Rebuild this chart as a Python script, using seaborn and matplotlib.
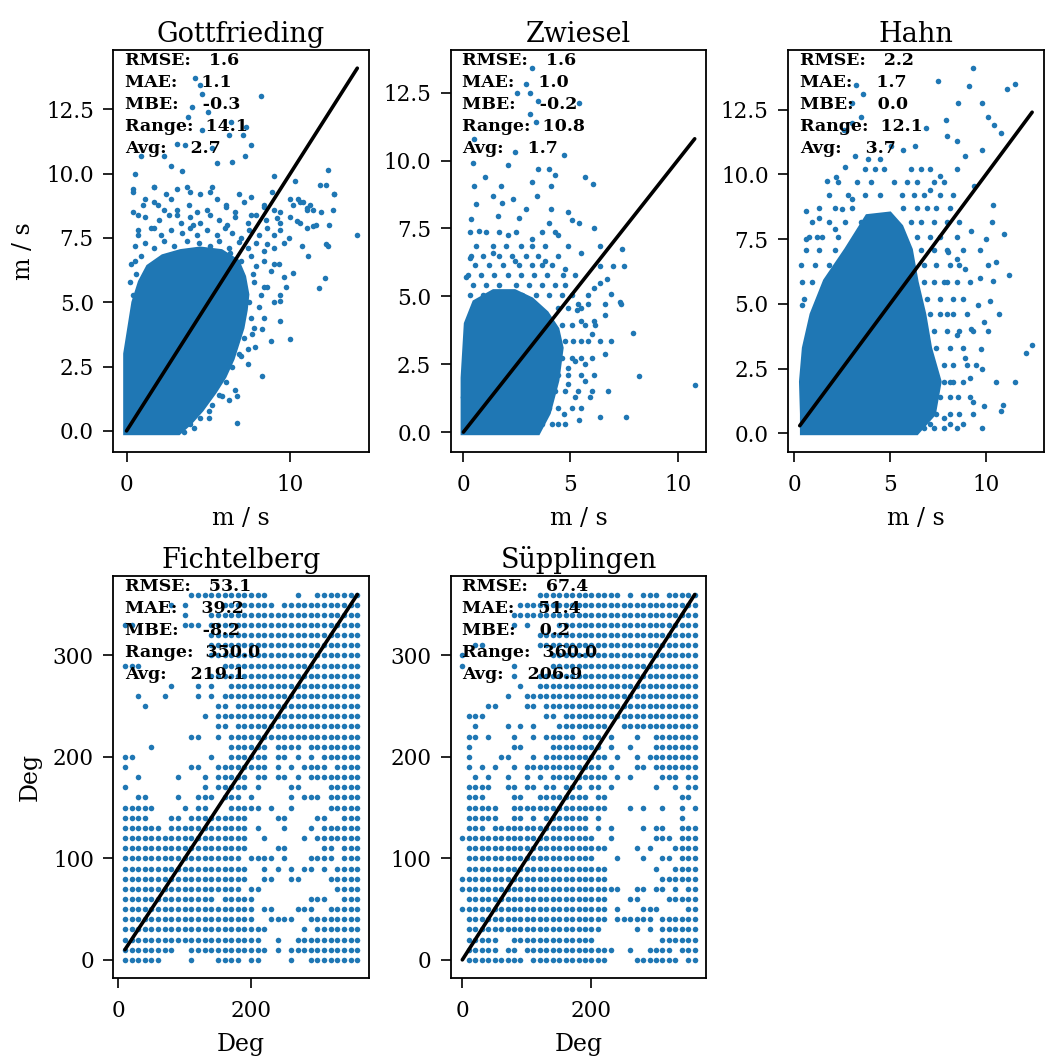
import numpy as np
import pandas as pd
import matplotlib
matplotlib.use("Agg")
import matplotlib.pyplot as plt
import seaborn as sns

sns.set_theme(style="ticks")
plt.rcParams["font.family"] = ["DejaVu Serif"]
plt.rcParams.update({"text.color": "black", "axes.labelcolor": "black",
                     "xtick.color": "black", "ytick.color": "black"})

BLUE = "#1f77b4"

stations = ["Gottfrieding", "Zwiesel", "Hahn", "Fichtelberg", "Süpplingen"]
units = ["m / s", "m / s", "m / s", "Deg", "Deg"]
rmse = [1.6, 1.6, 2.2, 53.1, 67.4]
mae = [1.1, 1.0, 1.7, 39.2, 51.4]
mbe = [-0.3, -0.2, 0.0, -8.2, 0.2]
value_range = [14.1, 10.8, 12.1, 350.0, 360.0]
avg = [2.7, 1.7, 3.7, 219.1, 206.9]
line_lo = [0.0, 0.0, 0.3, 10.0, 0.0]
line_hi = [14.1, 10.8, 12.4, 360.0, 360.0]

# dense cores of the wind speed clouds (outline, m/s)
gott_core = [(-0.1, -0.1), (3.2, -0.1), (3.9, 0.3), (4.6, 0.8), (5.4, 1.5), (6.0, 2.1),
             (6.5, 2.8), (6.8, 3.4), (7.1, 4.0), (7.3, 4.7), (7.4, 5.3), (7.2, 6.0),
             (6.8, 6.6), (5.8, 7.0), (4.5, 7.1), (3.3, 7.0), (2.2, 6.8), (1.3, 6.4),
             (0.8, 5.8), (0.4, 5.0), (0.15, 4.0), (-0.1, 3.0)]
zwie_core = [(-0.05, -0.05), (3.5, -0.05), (4.0, 0.7), (4.4, 1.9), (4.6, 3.1), (4.4, 3.8),
             (3.9, 4.4), (3.2, 4.9), (2.4, 5.2), (1.4, 5.2), (0.5, 4.8), (0.1, 4.0),
             (-0.05, 2.0)]
hahn_core = [(0.4, 0.0), (6.4, 0.0), (7.3, 0.75), (7.6, 2.0), (7.1, 3.3), (6.8, 4.6),
             (6.4, 5.85), (6.1, 7.1), (5.6, 8.0), (5.0, 8.5), (3.8, 8.4), (2.7, 7.1),
             (1.6, 5.9), (0.9, 4.6), (0.5, 3.3), (0.35, 2.0), (0.4, 0.75)]

# scattered points outside the cores (measured, modelled)
gott_pts = [(4.17, 13.7), (4.46, 13.46), (4.6, 13.1), (8.2, 13.0), (4.0, 12.6), (4.95, 12.4),
            (3.75, 12.2), (6.4, 12.0), (4.6, 11.7), (7.3, 11.8), (6.25, 11.5), (7.1, 11.5),
            (7.6, 11.1), (3.1, 11.15), (3.6, 11.1), (5.25, 11.0), (5.5, 10.4), (6.45, 10.45),
            (7.25, 10.7), (2.3, 10.7), (0.9, 10.7), (2.7, 10.3), (0.5, 10.0), (3.4, 10.1),
            (12.3, 10.15), (11.8, 9.55), (12.7, 9.2), (9.0, 9.9), (10.3, 9.7), (0.4, 9.4),
            (0.7, 8.4), (14.1, 7.6), (12.3, 7.2), (11.2, 8.8), (10.6, 8.9), (10.0, 9.0),
            (9.4, 8.5), (11.9, 8.5), (12.4, 8.0), (11.6, 8.0), (1.1, 9.0), (1.7, 9.5),
            (1.9, 8.8), (2.7, 9.0), (3.7, 9.5), (4.5, 9.2), (5.25, 9.5), (6.1, 8.8),
            (6.85, 9.2), (7.6, 8.4), (8.4, 8.8), (3.1, 8.4), (4.05, 8.0), (1.7, 7.9),
            (12.2, 7.25), (11.1, 6.8), (12.1, 5.96), (11.75, 5.55), (10.75, 7.2), (9.9, 7.5),
            (9.98, 3.56), (8.3, 2.14), (6.75, 1.35), (6.75, 0.32), (7.4, 2.6), (9.4, 4.26),
            (8.8, 3.5), (8.3, 3.97), (9.75, 5.58), (9.4, 5.04), (10.2, 6.13), (11.4, 7.95),
            (12.7, 9.2), (12.2, 9.55), (3.87, 0.26), (5.06, 0.77), (5.85, 1.35), (7.84, 3.27),
            (7.64, 3.78), (10.4, 8.14), (11.0, 8.65), (9.2, 8.27), (8.6, 7.25), (9.0, 6.47),
            (8.4, 5.58), (0.4, 8.5), (0.7, 7.6), (0.5, 6.6), (0.4, 5.3), (0.1, 3.3)]
gott_edge = [(0.4, 9.3), (1.7, 9.5), (2.4, 9.2), (3.1, 9.4), (3.9, 9.3), (5.1, 9.3), (5.5, 9.0),
             (7.6, 9.1), (8.9, 9.3), (10.5, 9.0), (10.8, 8.9), (1.0, 8.8), (1.7, 8.9), (2.3, 8.6),
             (3.1, 8.6), (3.8, 8.8), (4.3, 8.5), (4.9, 8.6), (6.05, 8.7), (6.6, 8.5), (7.2, 8.9),
             (8.4, 8.7), (9.0, 8.6), (10.2, 8.8), (11.0, 8.6), (11.4, 8.6), (12.6, 8.6),
             (1.1, 8.3), (2.0, 8.2), (2.6, 8.4), (3.3, 8.1), (3.9, 8.3), (4.5, 8.1), (5.1, 8.4),
             (5.65, 8.2), (6.15, 8.0), (6.65, 8.3), (7.4, 8.1), (7.9, 8.4), (8.5, 8.2), (9.4, 8.1),
             (10.0, 8.3), (10.6, 8.1), (11.0, 7.9), (0.7, 7.8), (1.5, 7.9), (2.1, 7.6), (2.7, 7.8),
             (3.4, 7.7), (3.9, 7.9), (4.3, 7.6), (4.9, 7.8), (5.5, 7.6), (6.0, 7.9), (6.45, 7.7),
             (7.0, 7.5), (7.5, 7.8), (8.1, 7.6), (8.6, 7.9), (9.0, 7.6), (9.4, 7.8), (0.5, 7.2),
             (1.1, 7.3), (1.7, 7.1), (2.3, 7.4), (2.9, 7.2), (3.7, 7.4), (4.4, 7.3), (5.1, 7.2),
             (5.65, 7.4), (6.25, 7.1), (6.85, 7.35), (7.45, 7.1), (7.9, 7.3), (8.4, 7.0),
             (9.0, 7.1), (9.6, 7.3), (7.6, 6.8), (7.9, 6.4), (8.4, 6.6), (8.8, 6.2), (9.3, 6.5),
             (9.6, 6.0), (0.3, 6.5), (0.6, 6.1), (7.8, 5.8), (8.2, 5.3), (8.6, 5.6), (9.0, 5.0),
             (8.1, 4.8), (9.4, 5.3), (7.6, 4.4), (7.2, 3.6), (7.8, 4.0), (8.4, 4.4), (6.85, 3.0),
             (7.4, 3.2), (7.0, 2.9), (6.45, 2.5), (6.05, 1.9), (6.65, 1.6), (5.65, 1.4),
             (5.25, 1.0), (6.25, 1.2), (5.06, 0.5), (4.5, 0.5), (4.1, 0.1), (3.5, -0.05),
             (7.7, 6.1), (7.5, 5.0), (7.0, 6.6), (6.3, 6.9), (0.2, 5.8), (0.9, 6.8)]
zwie_pts = [(3.2, 13.4), (2.9, 12.8), (2.5, 12.5), (3.1, 12.5), (3.5, 12.2), (5.4, 12.1),
            (3.1, 11.7), (3.4, 11.4), (0.5, 10.8), (2.4, 10.3), (4.7, 10.2), (0.45, 9.9),
            (2.1, 9.85), (3.5, 9.7), (4.0, 9.7), (1.0, 9.4), (4.3, 9.45), (5.7, 9.4),
            (6.05, 9.15), (0.5, 9.06), (1.75, 9.06), (3.2, 9.2), (1.4, 8.7), (2.3, 8.6),
            (3.45, 8.7), (4.1, 9.06), (0.6, 8.4), (1.8, 8.45), (2.9, 8.2), (4.1, 8.2),
            (4.9, 8.1), (0.37, 7.85), (1.6, 7.97), (2.6, 7.9), (4.0, 7.7), (5.05, 7.8),
            (5.4, 7.7), (6.1, 7.5), (0.75, 7.4), (2.1, 7.24), (3.2, 7.1), (4.4, 7.24),
            (6.4, 6.87), (7.4, 6.75), (5.5, 6.6), (0.3, 6.4), (1.4, 6.6), (2.4, 6.3),
            (3.8, 6.3), (4.75, 6.0), (0.14, 5.7), (6.4, 6.1), (7.0, 6.1), (7.5, 6.1),
            (6.7, 5.65), (6.1, 5.3), (6.4, 5.5), (7.3, 4.8), (7.35, 4.7), (6.9, 5.1),
            (5.8, 5.05), (5.3, 4.5), (5.5, 4.1), (6.1, 4.1), (6.6, 4.3), (7.9, 3.65),
            (6.9, 3.35), (6.4, 3.35), (6.6, 2.86), (6.0, 3.6), (5.1, 3.35), (5.7, 2.5),
            (5.2, 2.6), (8.2, 2.07), (10.8, 1.74), (6.75, 1.52), (5.9, 1.28), (5.2, 1.28),
            (6.4, 0.55), (7.6, 0.55), (5.4, 0.43), (4.7, 0.67), (4.9, 1.76), (5.7, 1.9),
            (4.9, 2.37), (0.14, 2.25), (0.0, 1.28)]
zwie_edge = [(0.3, 5.05), (0.9, 5.05), (1.5, 5.05), (2.1, 5.05), (2.75, 5.05), (3.4, 5.05),
             (4.0, 5.05), (4.6, 5.05), (5.05, 5.05), (0.45, 5.4), (1.06, 5.4), (1.67, 5.4),
             (2.44, 5.4), (3.05, 5.4), (3.67, 5.4), (4.3, 5.4), (4.75, 5.4), (0.2, 5.8),
             (0.83, 5.8), (1.44, 5.8), (2.06, 5.8), (2.67, 5.8), (3.29, 5.8), (3.9, 5.8),
             (4.67, 5.8), (5.2, 5.8), (0.52, 6.15), (1.2, 6.15), (1.83, 6.15), (2.6, 6.15),
             (3.2, 6.15), (3.67, 6.15), (4.13, 6.15), (0.37, 6.5), (0.9, 6.5), (1.67, 6.5),
             (2.29, 6.5), (2.9, 6.5), (3.5, 6.5), (4.44, 6.5), (0.6, 6.87), (1.37, 6.87),
             (1.98, 6.87), (2.67, 6.87), (3.2, 6.87), (3.82, 6.87), (4.9, 6.87), (0.3, 7.36),
             (1.06, 7.36), (1.67, 7.36), (2.44, 7.36), (3.67, 7.36), (4.3, 7.36), (3.67, 0.3),
             (4.13, 0.3), (4.44, 0.3), (4.75, 0.3), (4.0, 0.9), (4.44, 0.9), (5.05, 0.9),
             (5.5, 0.9), (4.3, 1.5), (4.75, 1.5), (5.36, 1.5), (6.0, 1.5), (4.44, 2.1),
             (4.9, 2.1), (5.5, 2.1), (6.1, 2.1), (4.6, 2.74), (5.05, 2.74), (5.5, 2.74),
             (6.0, 2.74), (4.75, 3.35), (5.5, 3.35), (5.8, 3.35), (4.6, 3.95), (5.05, 3.95),
             (5.67, 3.95), (6.13, 3.95), (4.44, 4.56), (4.9, 4.56), (5.5, 4.56), (5.36, 4.7),
             (5.8, 4.7), (6.6, 4.7), (3.05, 0.06), (3.36, 0.06)]
hahn_pts = [(9.3, 14.1), (7.5, 13.6), (11.5, 13.5), (11.1, 13.3), (9.1, 13.4), (3.25, 13.45),
            (3.6, 13.1), (3.0, 12.75), (9.8, 12.75), (8.55, 12.75), (3.5, 12.2), (7.9, 12.1),
            (10.1, 12.2), (10.4, 11.9), (3.0, 12.0), (2.6, 11.7), (6.85, 11.8), (10.8, 11.6),
            (9.8, 10.95), (8.5, 11.3), (7.95, 11.5), (5.65, 10.95), (6.3, 11.1), (2.2, 9.9),
            (1.7, 9.75), (2.65, 10.3), (3.2, 10.7), (3.85, 10.6), (4.5, 10.6), (5.05, 11.1),
            (8.9, 10.7), (9.35, 9.55), (8.5, 10.2), (7.6, 9.95), (7.1, 9.4), (10.35, 8.8),
            (10.3, 8.15), (0.6, 8.6), (1.3, 8.3), (1.2, 7.6), (2.15, 7.9), (3.0, 9.05),
            (2.5, 8.65), (0.6, 7.5), (9.2, 7.8), (9.7, 7.1), (10.0, 7.5), (10.95, 7.7),
            (10.5, 6.6), (10.1, 6.5), (11.2, 6.1), (10.35, 5.9), (9.7, 6.0), (8.9, 6.35),
            (8.5, 6.75), (8.0, 7.0), (7.8, 5.85), (0.43, 4.95), (10.7, 4.6), (9.9, 4.3),
            (9.6, 4.95), (10.2, 5.1), (9.2, 4.05), (8.5, 3.8), (7.95, 4.6), (10.1, 3.95),
            (12.4, 3.4), (12.1, 3.1), (9.75, 3.25), (10.5, 2.0), (11.5, 2.0), (9.8, 2.5),
            (8.9, 2.9), (9.15, 2.15), (8.3, 2.0), (8.55, 1.4), (9.3, 1.2), (9.9, 1.05),
            (10.9, 1.1), (10.8, 0.87), (8.8, 0.36), (7.8, 0.6), (7.1, 0.36), (8.1, 0.36)]
hahn_edge = [(3.7, 10.2), (4.2, 10.2), (4.7, 10.2), (6.1, 10.2), (6.6, 10.2), (7.1, 10.2),
             (2.3, 9.7), (3.3, 9.7), (4.0, 9.7), (5.2, 9.7), (5.9, 9.7), (6.4, 9.7), (7.3, 9.7),
             (7.8, 9.7), (1.8, 9.2), (2.8, 9.2), (3.7, 9.2), (4.5, 9.2), (5.6, 9.2), (6.25, 9.2),
             (6.76, 9.2), (7.6, 9.2), (8.3, 9.2), (1.3, 8.7), (2.14, 8.7), (3.0, 8.7), (5.7, 8.7),
             (6.4, 8.7), (6.9, 8.7), (7.4, 8.7), (8.1, 8.7), (0.95, 8.15), (1.8, 8.15),
             (2.65, 8.15), (3.5, 8.15), (6.1, 8.15), (6.6, 8.15), (7.3, 8.15), (7.95, 8.15),
             (8.6, 8.15), (0.78, 7.6), (1.46, 7.6), (2.3, 7.6), (3.2, 7.6), (6.4, 7.6), (7.1, 7.6),
             (7.6, 7.6), (8.5, 7.6), (0.6, 7.1), (1.3, 7.1), (2.14, 7.1), (6.6, 7.1), (7.3, 7.1),
             (7.95, 7.1), (8.8, 7.1), (0.35, 6.5), (1.1, 6.5), (1.8, 6.5), (6.76, 6.5), (7.4, 6.5),
             (8.1, 6.5), (8.6, 6.5), (0.43, 5.85), (0.95, 5.85), (6.76, 5.85), (7.3, 5.85),
             (7.95, 5.85), (8.5, 5.85), (9.15, 5.85), (0.52, 5.2), (6.9, 5.2), (7.6, 5.2),
             (8.3, 5.2), (8.8, 5.2), (7.1, 4.6), (7.6, 4.6), (8.3, 4.6), (9.0, 4.6), (7.3, 3.95),
             (7.95, 3.95), (8.6, 3.95), (9.3, 3.95), (7.4, 3.3), (8.1, 3.3), (8.8, 3.3),
             (7.8, 2.66), (8.3, 2.66), (9.0, 2.66), (9.5, 2.66), (7.8, 2.0), (8.1, 2.0), (8.8, 2.0),
             (7.6, 1.4), (8.1, 1.4), (9.15, 1.4), (7.4, 0.75), (8.1, 0.75), (8.6, 0.75), (9.3, 0.75),
             (6.76, 0.23), (7.3, 0.23), (7.8, 0.23), (8.5, 0.23), (9.8, 0.23)]

# wind direction cells, one string per 10 deg row (top = 360), one char per 10 deg column (0..360)
fichtel_rows = [
    ".........." ".#########" "###....#.." "#######",
    "........#." "#.....####" "####.#####" "#######",
    ".........." "#...######" "##########" "#######",
    ".##......." "###.######" "##########" "#######",
    ".........." "....######" "##########" "#######",
    ".........." "....######" "##########" "#######",
    ".........." "....######" "##########" "#######",
    ".###......" "......####" "##########" "#######",
    ".........." "....######" "##########" "#######",
    "........#." "..#.#..###" "##########" "#######",
    "...#...#.." "..#.#.####" "##########" "#######",
    "....#....." ".....##.##" "##########" "#######",
    ".........." "...#.#####" "##########" "#######",
    ".........." ".....##.##" "##########" "#######",
    ".........." ".##..#.###" "##########" "#######",
    ".....#...." ".......###" "###.####.#" "#######",
    ".##......." "....#..###" "###.##.#.#" ".######",
    ".#........" ".##..#####" "###.#.#.##" "##.####",
    "...#.....#" "...#.#####" ".##.##.#.#" "#######",
    ".#........" "...#.#####" ".#....##.." "..#####",
    "...##....#" "..###.###." "#.....#.##" "#.#####",
    ".#####...." "#.##...###" "##.#..#..." "..#####",
    ".####...##" ".#########" "....##...." "##..###",
    ".######.##" "##########" ".#...#...#" ".######",
    ".#########" "##########" "..#.....#." "#######",
    ".#########" "##########" "....##...." ".##.###",
    ".#########" "#########." "####.#...#" "###.###",
    ".#########" "##########" "..#.#.#.##" ".#.####",
    ".#########" "##########" "..##..##.." "..#####",
    ".#########" "#########." "##........" "...####",
    ".#########" "#####.####" "#........#" "##..###",
    ".#########" "##########" "#.##...###" "..#####",
    ".#########" "##########" "#..####..#" "#######",
    ".#########" "##########" "###.....#." "#######",
    ".#########" "##########" "##..#..###" "#######",
    ".########." ".#########" "###.#.####" "#######",
    ".######..." ".#...####." "##....#..#" "#######",
]
suepp_rows = [
    ".........." "..########" "#####.#.##" "#.#####",
    ".........#" "##########" "##########" "#######",
    "........##" "##########" "##########" "#######",
    "........#." "#....#####" "##########" "#######",
    ".........." "..########" "##########" "#######",
    "..##......" "..########" "##########" "#######",
    "#........." "....######" "##########" "#######",
    "#.......#." "....######" "##########" "#######",
    "........#." "..########" "##########" "#######",
    ".........#" "..########" "##########" "#######",
    ".......#.." "##########" "##########" "#######",
    "....##...." "##.#######" "##########" "#######",
    ".###......" "...##.####" "##########" "#######",
    "..#....#.#" ".#...#####" "###..#####" "#######",
    ".##.#...#." ".#.#####.#" "##.#...#.." "#######",
    ".#......##" "....######" "##.#..#..." "#######",
    ".#....##.." ".#.#######" "###.#..#.#" "#######",
    ".#.#.#..#." "##########" "##.#...##." "#######",
    "..#.#..#.." "#.#.######" "###.#.#..." ".###.##",
    ".####..##." "##.##.###." "##.#......" "#..#.##",
    ".###....##" "..########" ".##......." "....##.",
    ".#####..##" "##########" "###...#.#." ".#..#.#",
    ".#####..##" ".#.#######" ".#........" "....#..",
    ".###.#####" "##########" ".#.#....#." "##..###",
    "##########" "##########" "#..#......" "###.###",
    ".#########" "##########" "###....#.#" "...####",
    ".#########" "##########" "#...#...#." ".##.###",
    ".#########" "##########" "###......." "#..####",
    "##########" "##########" "###......." ".######",
    "##########" "##########" "#####..##." "##.#.##",
    ".#########" "##########" "###...##.." "..#####",
    "##########" "##########" "###.#...##" "#....##",
    ".#########" "##########" "###.######" ".######",
    ".#########" "##########" "##.....#.#" ".######",
    ".#####..##" "##########" "#........." ".######",
    ".#####.##." "##########" "####..#..#" "###.###",
    ".#########" ".#########" "###....###" "####.##",
]


def cells_to_frame(rows):
    recs = []
    for i, row in enumerate(rows):
        y = 360 - 10 * i
        for k, c in enumerate(row):
            if c == "#":
                recs.append((10 * k, y))
    return pd.DataFrame(recs, columns=["measured", "modelled"])


speed_pts = [gott_pts + gott_edge, zwie_pts + zwie_edge, hahn_pts + hahn_edge]
speed_cores = [gott_core, zwie_core, hahn_core]
dir_frames = [cells_to_frame(fichtel_rows), cells_to_frame(suepp_rows)]

fig, axes = plt.subplots(2, 3, figsize=(10.49, 10.62), dpi=100)
fig.subplots_adjust(left=0.108, right=0.995, top=0.953, bottom=0.079,
                    wspace=0.32, hspace=0.31)
axes[1, 2].remove()
panel_axes = [axes[0, 0], axes[0, 1], axes[0, 2], axes[1, 0], axes[1, 1]]

for i, ax in enumerate(panel_axes):
    if i < 3:
        core = np.array(speed_cores[i])
        ax.fill(core[:, 0], core[:, 1], color=BLUE, linewidth=2.5, edgecolor=BLUE)
        df = pd.DataFrame(speed_pts[i], columns=["measured", "modelled"])
    else:
        df = dir_frames[i - 3]
    sns.scatterplot(data=df, x="measured", y="modelled", ax=ax, color=BLUE,
                    s=16, linewidth=0, legend=False)
    ax.plot([line_lo[i], line_hi[i]], [line_lo[i], line_hi[i]], color="black",
            linewidth=2.6)
    ax.set_title(stations[i], fontsize=19.5)
    ax.set_xlabel(units[i], fontsize=17, labelpad=8)
    ax.set_ylabel(units[i] if i in (0, 3) else "", fontsize=17, labelpad=8)
    ax.tick_params(labelsize=15.5, width=1.2, length=7, pad=9)
    ax.tick_params(axis="y", pad=7)
    for sp in ax.spines.values():
        sp.set_linewidth(1.3)
        sp.set_color("black")
    txt = (f"RMSE:   {rmse[i]:.1f}\nMAE:    {mae[i]:.1f}\nMBE:    {mbe[i]:.1f}\n"
           f"Range:  {value_range[i]:.1f}\nAvg:    {avg[i]:.1f}")
    ax.text(0.045, 0.995, txt, transform=ax.transAxes, va="top", ha="left",
            fontsize=12.5, fontweight="bold", linespacing=1.38)

for ax in panel_axes[:3]:
    ax.set_yticks([0, 2.5, 5, 7.5, 10, 12.5])
for ax in panel_axes[3:]:
    ax.set_yticks([0, 100, 200, 300])
    ax.set_xticks([0, 200])

fig.savefig("out.png", dpi=100)
